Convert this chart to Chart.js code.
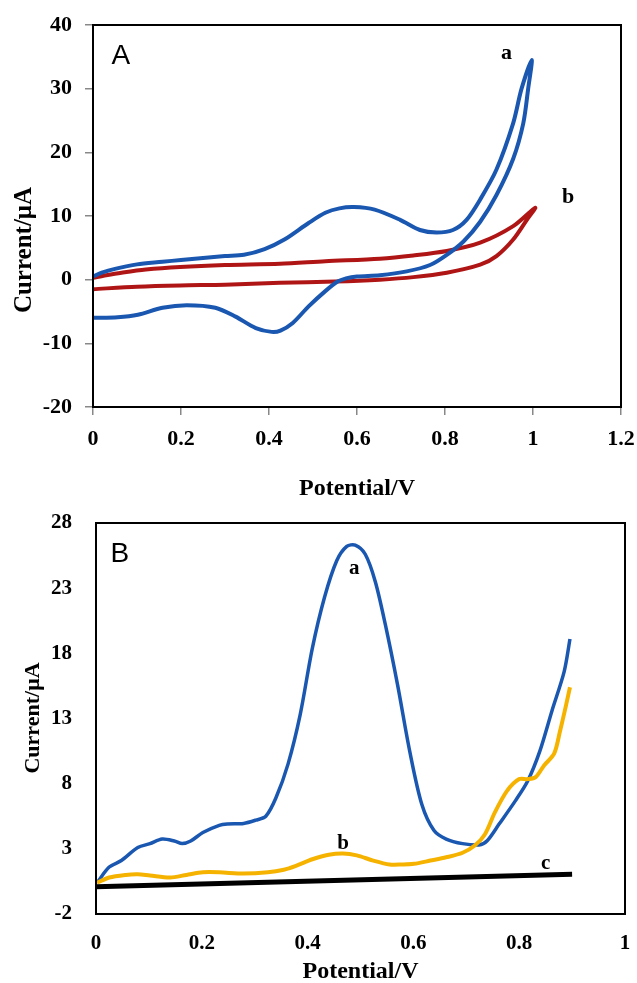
<!DOCTYPE html>
<html><head><meta charset="utf-8">
<script src="https://cdn.jsdelivr.net/npm/chart.js@4.4.1/dist/chart.umd.min.js"></script>
<style>
html,body{margin:0;padding:0;background:#fff;width:637px;height:983px;overflow:hidden}
#wa{position:absolute;left:0;top:0;width:637px;height:500px}
#wb{position:absolute;left:0;top:500px;width:637px;height:483px}
canvas{display:block}
</style></head><body>
<div id="wa"><canvas id="ca" width="637" height="500"></canvas></div>
<div id="wb"><canvas id="cb" width="637" height="483"></canvas></div>
<script>
// ---------- Panel A : cyclic voltammograms ----------
const xTicksA = [0, 0.2, 0.4, 0.6, 0.8, 1, 1.2];
const yTicksA = [-20, -10, 0, 10, 20, 30, 40];
// curve a (forward scan then return scan)
const potA_a = [0,0.02,0.05,0.10,0.158,0.20,0.25,0.30,0.343,0.39,0.435,0.49,0.528,0.56,0.593,0.64,0.698,0.743,0.781,0.818,0.849,0.88,0.917,0.955,0.974,0.997,
                0.989,0.978,0.955,0.917,0.88,0.842,0.804,0.766,0.713,0.652,0.60,0.575,0.556,0.528,0.49,0.454,0.426,0.406,0.37,0.324,0.278,0.213,0.158,0.102,0.056,0.0];
const curA_a = [0.5,1.1,1.7,2.4,2.8,3.1,3.4,3.7,3.9,4.8,6.3,8.9,10.5,11.2,11.4,11.0,9.4,7.8,7.4,7.8,9.4,12.6,17.3,24.6,30.0,34.5,
                30.0,24.6,19.0,13.3,9.1,6.0,3.9,2.3,1.3,0.7,0.5,0.2,-0.3,-1.8,-4.2,-6.8,-8.0,-8.2,-7.6,-5.8,-4.4,-4.0,-4.4,-5.5,-5.9,-6.0];
// curve b
const potA_b = [0,0.03,0.065,0.12,0.198,0.30,0.425,0.528,0.652,0.728,0.804,0.88,0.955,1.005,
                0.986,0.955,0.917,0.88,0.804,0.728,0.652,0.55,0.425,0.30,0.198,0.10,0.0];
const curA_b = [0.3,0.7,1.1,1.6,2.0,2.3,2.5,2.9,3.3,3.8,4.5,5.8,8.4,11.3,
                9.4,6.3,3.7,2.35,1.1,0.4,0.0,-0.3,-0.5,-0.8,-0.9,-1.1,-1.5];

// ---------- Panel B : DPV ----------
const xTicksB = [0, 0.2, 0.4, 0.6, 0.8, 1];
const yTicksB = [-2, 3, 8, 13, 18, 23, 28];
const potB_a = [0.002,0.025,0.048,0.079,0.102,0.125,0.148,0.163,0.179,0.202,0.233,0.248,0.279,0.302,0.321,0.34,0.363,0.386,0.409,0.432,0.455,0.474,0.49,0.509,0.528,0.547,0.57,0.593,0.616,0.639,0.662,0.693,0.724,0.739,0.762,0.793,0.816,0.839,0.862,0.885,0.896];
const curB_a = [0.4,1.6,2.1,3.1,3.4,3.75,3.6,3.4,3.6,4.25,4.8,4.9,4.95,5.2,5.5,6.9,9.5,13.3,18.4,22.3,25.1,26.2,26.3,25.6,23.5,20.2,15.6,10.5,6.4,4.4,3.75,3.4,3.3,3.6,4.9,6.7,8.2,10.5,13.6,16.6,19.1];
const potB_b = [0.002,0.025,0.056,0.079,0.102,0.14,0.171,0.202,0.233,0.279,0.325,0.355,0.378,0.409,0.44,0.467,0.493,0.524,0.555,0.578,0.601,0.632,0.662,0.693,0.716,0.735,0.754,0.777,0.8,0.816,0.831,0.847,0.866,0.877,0.889,0.896];
const curB_b = [0.4,0.8,1.0,1.05,0.95,0.8,1.0,1.2,1.2,1.1,1.2,1.4,1.7,2.2,2.55,2.65,2.5,2.1,1.8,1.8,1.85,2.1,2.35,2.7,3.25,4.1,5.8,7.45,8.35,8.35,8.5,9.4,10.3,12.0,14.1,15.4];
const potB_c = [0, 0.9];
const curB_c = [0.1, 1.05];

// ---------- helpers ----------
const SERIF = '"Liberation Serif","Times New Roman",serif';
const pts = (xs, ys) => xs.map((x, i) => ({x: x, y: ys[i]}));
const fmt = v => String(Math.round(v * 10) / 10);

function overlay(cfg) {
  return {
    id: 'overlay',
    afterDatasetsDraw(chart) {
      const {ctx, chartArea: ca, scales} = chart;
      ctx.save();
      ctx.strokeStyle = '#000';
      ctx.lineWidth = 2;
      ctx.strokeRect(ca.left, ca.top, ca.width, ca.height);
      ctx.fillStyle = '#000';
      ctx.textAlign = 'center';
      ctx.textBaseline = 'middle';
      for (const t of cfg.texts) {
        ctx.font = t.font;
        ctx.fillText(t.text, scales.x.getPixelForValue(t.x), scales.y.getPixelForValue(t.y));
      }
      ctx.translate(cfg.yTitle.x, cfg.yTitle.y);
      ctx.rotate(-Math.PI / 2);
      ctx.font = cfg.yTitle.font;
      ctx.fillText(cfg.yTitle.text, 0, 0);
      ctx.restore();
    }
  };
}

function axes(o) {
  return {
    x: {
      type: 'linear', min: o.xMin, max: o.xMax,
      afterBuildTicks: s => { s.ticks = o.xTicks.map(v => ({value: v})); },
      afterFit: s => { s.height = o.xHeight; s.paddingLeft = 0; s.paddingRight = 0; },
      ticks: {color: '#000', font: {family: SERIF, size: o.tickSize, weight: 'bold'}, padding: o.xPad,
              maxRotation: 0, autoSkip: false, callback: v => fmt(v)},
      grid: {drawOnChartArea: false, drawTicks: o.drawTicks, tickLength: o.tickLen, color: '#888', lineWidth: 1.5},
      border: {display: true, color: '#000', width: 2},
      title: {display: true, text: 'Potential/V', color: '#000',
              font: {family: SERIF, size: o.titleSize, weight: 'bold', lineHeight: 1}, padding: {top: 0, bottom: o.xTitlePad}}
    },
    y: {
      type: 'linear', min: o.yMin, max: o.yMax,
      afterBuildTicks: s => { s.ticks = o.yTicks.map(v => ({value: v})); },
      afterFit: s => { s.width = o.yWidth; s.paddingTop = 0; s.paddingBottom = 0; },
      ticks: {color: '#000', font: {family: SERIF, size: o.tickSize, weight: 'bold'}, padding: o.yPad,
              autoSkip: false, callback: v => fmt(v)},
      grid: {drawOnChartArea: false, drawTicks: o.drawTicks, tickLength: o.tickLen, color: '#888', lineWidth: 1.5},
      border: {display: true, color: '#000', width: 2}
    }
  };
}

const common = {
  responsive: false, animation: false, devicePixelRatio: 1,
  plugins: {legend: {display: false}, tooltip: {enabled: false}},
  elements: {point: {radius: 0}}
};

// ---------- Chart A ----------
new Chart(document.getElementById('ca'), {
  type: 'scatter',
  data: {datasets: [
    {data: pts(potA_a, curA_a), showLine: true, borderColor: '#1a57b0', borderWidth: 4, tension: 0.3, pointRadius: 0},
    {data: pts(potA_b, curA_b), showLine: true, borderColor: '#b01515', borderWidth: 4, tension: 0.3, pointRadius: 0}
  ]},
  options: Object.assign({}, common, {
    layout: {padding: {left: 0, right: 16, top: 25, bottom: 0}},
    scales: axes({xMin: 0, xMax: 1.2, yMin: -20, yMax: 40, xTicks: xTicksA, yTicks: yTicksA,
                  xHeight: 93, yWidth: 93, tickSize: 22, titleSize: 24, xPad: 11, yPad: 13,
                  drawTicks: true, tickLen: 8, xTitlePad: -1})
  }),
  plugins: [overlay({
    texts: [
      {text: 'A', x: 0.063, y: 35.1, font: '28px "Liberation Sans", Arial, sans-serif'},
      {text: 'a', x: 0.94, y: 35.6, font: 'bold 22px ' + SERIF},
      {text: 'b', x: 1.08, y: 13.0, font: 'bold 22px ' + SERIF}
    ],
    yTitle: {text: 'Current/μA', x: 25, y: 250, font: 'bold 25px ' + SERIF}
  })]
});

// ---------- Chart B ----------
new Chart(document.getElementById('cb'), {
  type: 'scatter',
  data: {datasets: [
    {data: pts(potB_c, curB_c), showLine: true, borderColor: '#000', borderWidth: 5, tension: 0, pointRadius: 0},
    {data: pts(potB_b, curB_b), showLine: true, borderColor: '#f5b300', borderWidth: 4, tension: 0.3, pointRadius: 0},
    {data: pts(potB_a, curB_a), showLine: true, borderColor: '#1a57b0', borderWidth: 3.5, tension: 0.3, pointRadius: 0}
  ]},
  options: Object.assign({}, common, {
    layout: {padding: {left: 0, right: 12, top: 23, bottom: 0}},
    scales: axes({xMin: 0, xMax: 1, yMin: -2, yMax: 28, xTicks: xTicksB, yTicks: yTicksB,
                  xHeight: 69, yWidth: 96, tickSize: 21, titleSize: 24, xPad: 17, yPad: 24,
                  drawTicks: false, tickLen: 0, xTitlePad: -1})
  }),
  plugins: [overlay({
    texts: [
      {text: 'B', x: 0.045, y: 25.6, font: '28px "Liberation Sans", Arial, sans-serif'},
      {text: 'a', x: 0.488, y: 24.5, font: 'bold 21px ' + SERIF},
      {text: 'b', x: 0.467, y: 3.4, font: 'bold 21px ' + SERIF},
      {text: 'c', x: 0.85, y: 1.9, font: 'bold 21px ' + SERIF}
    ],
    yTitle: {text: 'Current/μA', x: 33, y: 218, font: 'bold 22px ' + SERIF}
  })]
});
</script>
</body></html>
